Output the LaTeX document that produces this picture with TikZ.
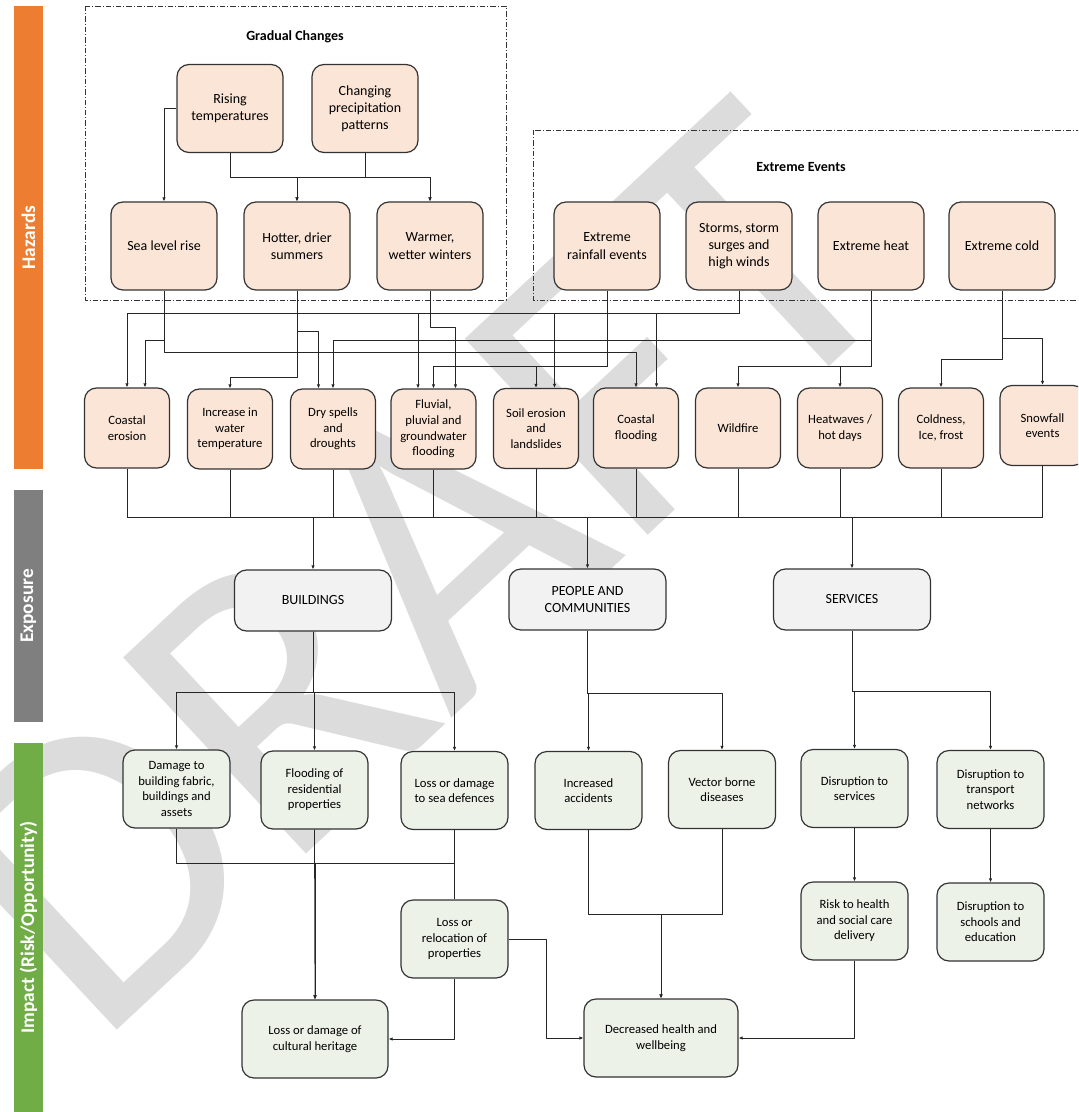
\documentclass[tikz,border=0pt]{standalone}
\usepackage{fontspec}
\setmainfont{Carlito}
\usetikzlibrary{arrows.meta,calc}

\definecolor{hazfill}{HTML}{FBE5D6}
\definecolor{expfill}{HTML}{F2F2F2}
\definecolor{impfill}{HTML}{ECF2E8}
\definecolor{hazbar}{HTML}{ED7D31}
\definecolor{expbar}{HTML}{7F7F7F}
\definecolor{impbar}{HTML}{70AD47}
\definecolor{wmark}{HTML}{DCDCDC}

\tikzset{
  box/.style={draw=black!80, line width=0.9pt, rounded corners=9pt, align=center, inner sep=1pt},
  hazbig/.style={box, fill=hazfill, minimum width=79.5pt, minimum height=66pt, font=\fontsize{10.5}{12.9}\selectfont},
  hazsmall/.style={box, fill=hazfill, minimum width=63.75pt, minimum height=60pt, font=\fontsize{9.5}{11.7}\selectfont},
  expbox/.style={box, fill=expfill, minimum width=117.75pt, minimum height=45.75pt, font=\fontsize{10.5}{12.9}\selectfont},
  impbox/.style={box, fill=impfill, minimum width=80.25pt, minimum height=58.5pt, font=\fontsize{9.5}{11.7}\selectfont},
  sidebar/.style={rotate=90, text=white, inner sep=0pt, minimum height=21.75pt, font=\fontsize{14.5}{17}\selectfont\bfseries},
  frame/.style={draw=black!80, line width=0.55pt, dash pattern=on 4pt off 1.5pt on 0.8pt off 1.5pt},
  title/.style={font=\fontsize{10.5}{12.6}\selectfont\bfseries},
  draftmark/.style={text=wmark, inner sep=0pt, font=\fontsize{313.5}{313.5}\selectfont},
  link/.style={draw=black!85, line width=0.6pt},
  arr/.style={link, -{Latex[length=3pt,width=2.6pt]}},
}

\begin{document}
\begin{tikzpicture}[x=0.75pt,y=-0.75pt,line join=round]
  \useasboundingbox (0,0) rectangle (1078,1112);
  \clip (0,0) rectangle (1078,1112);

  % watermark
  \node[draftmark, rotate=43, anchor=base west] (draft) at (96.5,1049.5) {DRAFT};

  % side bars
  \node[sidebar, fill=hazbar, minimum width=347.25pt] (barhaz) at (28.5,237.5) {Hazards};
  \node[sidebar, fill=expbar, minimum width=174pt] (barexp) at (28.5,606) {Exposure};
  \node[sidebar, fill=impbar, minimum width=276.75pt] (barimp) at (28.5,927.5) {Impact (Risk/Opportunity)};

  % hazard groups
  \draw[frame] (85,6) rectangle (506,300);
  \draw[frame] (533,130) rectangle (1100,300);
  \node[title] (gtitle) at (295,37) {Gradual Changes};
  \node[title] (etitle) at (801,167) {Extreme Events};

  \node[hazbig] (rise) at (230,108.5) {Rising\\temperatures};
  \node[hazbig] (precip) at (365,108.5) {Changing\\precipitation\\patterns};
  \node[hazbig] (slr) at (164,246) {Sea level rise};
  \node[hazbig] (hot) at (297,246) {Hotter, drier\\summers};
  \node[hazbig] (warm) at (430,246) {Warmer,\\wetter winters};
  \node[hazbig] (rain) at (607,246) {Extreme\\rainfall events};
  \node[hazbig] (storm) at (739,246) {Storms, storm\\surges and\\high winds};
  \node[hazbig] (heat) at (871,246) {Extreme heat};
  \node[hazbig] (cold) at (1002,246) {Extreme cold};

  \node[hazsmall] (cero) at (127,428) {Coastal\\erosion};
  \node[hazsmall] (wtemp) at (230,429) {Increase in\\water\\temperature};
  \node[hazsmall] (dry) at (333,429) {Dry spells\\and\\droughts};
  \node[hazsmall] (fluv) at (433.5,429) {Fluvial,\\pluvial and\\groundwater\\flooding};
  \node[hazsmall] (soil) at (536,428.5) {Soil erosion\\and\\landslides};
  \node[hazsmall] (cflood) at (636,428) {Coastal\\flooding};
  \node[hazsmall] (fire) at (738,428) {Wildfire};
  \node[hazsmall] (hwave) at (840,428) {Heatwaves /\\hot days};
  \node[hazsmall] (coldf) at (941,428) {Coldness,\\Ice, frost};
  \node[hazsmall] (snow) at (1042.5,425.5) {Snowfall\\events};

  % exposure
  \node[expbox] (bldg) at (313,600.5) {BUILDINGS};
  \node[expbox] (people) at (587.5,599.5) {PEOPLE AND\\COMMUNITIES};
  \node[expbox] (serv) at (852,599.5) {SERVICES};

  % impacts
  \node[impbox] (dmg) at (176.5,789) {Damage to\\building fabric,\\buildings and\\assets};
  \node[impbox] (fres) at (314.5,790) {Flooding of\\residential\\properties};
  \node[impbox] (seadef) at (454.5,790.5) {Loss or damage\\to sea defences};
  \node[impbox] (acc) at (588.5,790.5) {Increased\\accidents};
  \node[impbox] (vec) at (722,789.5) {Vector borne\\diseases};
  \node[impbox] (dserv) at (854.5,788.5) {Disruption to\\services};
  \node[impbox] (trans) at (990.5,789.5) {Disruption to\\transport\\networks};
  \node[impbox] (reloc) at (454.5,939) {Loss or\\relocation of\\properties};
  \node[impbox] (risk) at (854.5,921) {Risk to health\\and social care\\delivery};
  \node[impbox] (school) at (990.5,922) {Disruption to\\schools and\\education};
  \node[impbox, minimum width=109.5pt] (heritage) at (315,1039) {Loss or damage of\\cultural heritage};
  \node[impbox, minimum width=115.5pt] (health) at (661,1038) {Decreased health and\\wellbeing};

  % levels of the connectors
  \coordinate (gbus) at (0,177);
  \coordinate (lvstorm) at (0,313.5);
  \coordinate (lvwarm) at (0,327);
  \coordinate (lvhot) at (0,331);
  \coordinate (lvcold) at (0,338);
  \coordinate (lvmid) at (0,340);
  \coordinate (lvslr) at (0,352.5);
  \coordinate (lvcoldf) at (0,359.5);
  \coordinate (lvrain) at (0,366);
  \coordinate (lvwtemp) at (0,377.5);
  \coordinate (lvexp) at (0,517.5);
  \coordinate (lvb) at (0,692);
  \coordinate (lvp) at (0,693);
  \coordinate (lvs) at (0,691);
  \coordinate (lvi) at (0,863.5);
  \coordinate (lvh) at (0,914.5);

  % side entry points
  \coordinate (ceroB) at ($(cero.north)+(18,0)$);
  \coordinate (dryA) at ($(dry.north)+(-14.5,0)$);
  \coordinate (fluvA) at ($(fluv.north)+(-15.5,0)$);
  \coordinate (fluvC) at ($(fluv.north)+(22,0)$);
  \coordinate (soilB) at ($(soil.north)+(18.5,0)$);
  \coordinate (cfloodB) at ($(cflood.north)+(20.5,0)$);

  % gradual changes
  \draw[arr] (rise.west) -| (slr.north);
  \draw[arr] (rise.south) |- (hot.north |- gbus) -- (hot.north);
  \draw[arr] (rise.south) |- (warm.north |- gbus) -- (warm.north);
  \draw[arr] (precip.south) |- (hot.north |- gbus) -- (hot.north);
  \draw[arr] (precip.south) |- (warm.north |- gbus) -- (warm.north);

  % hazards to local effects
  \draw[arr] (slr.south) |- (ceroB |- lvmid) -- (ceroB);
  \draw[arr] (slr.south) |- (cflood.north |- lvslr) -- (cflood.north);
  \draw[arr] (hot.south) |- (wtemp.north |- lvwtemp) -- (wtemp.north);
  \draw[arr] (hot.south) |- (dryA |- lvhot) -- (dryA);
  \draw[arr] (warm.south) |- (fluvC |- lvwarm) -- (fluvC);
  \draw[arr] (rain.south) |- (fluv.north |- lvrain) -- (fluv.north);
  \draw[arr] (rain.south) |- (soil.north |- lvrain) -- (soil.north);
  \draw[arr] (storm.south) |- (cero.north |- lvstorm) -- (cero.north);
  \draw[arr] (storm.south) |- (fluvA |- lvstorm) -- (fluvA);
  \draw[arr] (storm.south) |- (soilB |- lvstorm) -- (soilB);
  \draw[arr] (storm.south) |- (cfloodB |- lvstorm) -- (cfloodB);
  \draw[arr] (heat.south) |- (dry.north |- lvmid) -- (dry.north);
  \draw[arr] (heat.south) |- (fire.north |- lvrain) -- (fire.north);
  \draw[arr] (heat.south) |- (hwave.north |- lvrain) -- (hwave.north);
  \draw[arr] (cold.south) |- (snow.north |- lvcold) -- (snow.north);
  \draw[arr] (cold.south) |- (coldf.north |- lvcoldf) -- (coldf.north);

  % hazards to exposure
  \foreach \h in {cero,wtemp,dry,fluv,soil,cflood,fire,hwave,coldf,snow}
    \draw[link] (\h.south) -- (\h.south |- lvexp);
  \draw[link] (cero.south |- lvexp) -- (snow.south |- lvexp);
  \foreach \e in {bldg,people,serv}
    \draw[arr] (\e.north |- lvexp) -- (\e.north);

  % exposure to impacts
  \draw[arr] (bldg.south) |- (dmg.north |- lvb) -- (dmg.north);
  \draw[arr] (bldg.south) |- (fres.north |- lvb) -- (fres.north);
  \draw[arr] (bldg.south) |- (seadef.north |- lvb) -- (seadef.north);
  \draw[arr] (people.south) |- (acc.north |- lvp) -- (acc.north);
  \draw[arr] (people.south) |- (vec.north |- lvp) -- (vec.north);
  \draw[arr] (serv.south) |- (dserv.north |- lvs) -- (dserv.north);
  \draw[arr] (serv.south) |- (trans.north |- lvs) -- (trans.north);

  % further impacts
  \draw[arr] (dmg.south) |- (heritage.north |- lvi) -- (heritage.north);
  \draw[arr] (fres.south) -- (heritage.north);
  \draw[arr] (seadef.south) |- (heritage.north |- lvi) -- (heritage.north);
  \draw[link] (seadef.south) -- (reloc.north);
  \draw[arr] (reloc.south) |- (heritage.east);
  \draw[arr] (reloc.east) -- ++(37.5,0) |- (health.west);
  \draw[arr] (acc.south) |- (health.north |- lvh) -- (health.north);
  \draw[arr] (vec.south) |- (health.north |- lvh) -- (health.north);
  \draw[arr] (dserv.south) -- (risk.north);
  \draw[arr] (trans.south) -- (school.north);
  \draw[arr] (risk.south) |- (health.east);
\end{tikzpicture}
\end{document}
